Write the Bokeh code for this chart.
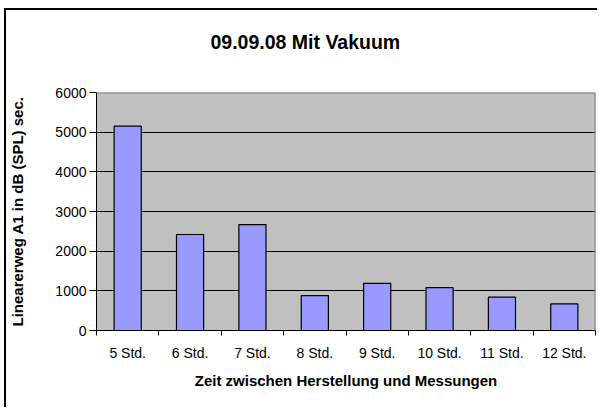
from bokeh.plotting import figure
from bokeh.models import FixedTicker, Range1d, ColumnDataSource, Span, Title
from bokeh.embed import file_html
from bokeh.resources import INLINE

categories = ["5 Std.", "6 Std.", "7 Std.", "8 Std.", "9 Std.", "10 Std.", "11 Std.", "12 Std."]
values = [5150, 2420, 2670, 880, 1190, 1080, 840, 670]
y_ticks = [0, 1000, 2000, 3000, 4000, 5000, 6000]

title = "09.09.08 Mit Vakuum"
x_title = "Zeit zwischen Herstellung und Messungen"
y_title = "Linearerweg A1 in dB (SPL) sec."

FONT = "Liberation Sans"
n = len(categories)
xs = [i + 0.5 for i in range(n)]
src = ColumnDataSource(dict(x=xs, top=values))

p = figure(width=593, height=399, output_backend="svg", toolbar_location=None,
           x_range=Range1d(0, n), y_range=Range1d(0, y_ticks[-1]),
           min_border_left=90, min_border_right=4, min_border_top=82, min_border_bottom=79,
           title=title)
p.styles = {"margin-left": "4px", "margin-top": "8px",
            "border-left": "2px solid black", "border-top": "2px solid black"}

p.title.align = "left"
p.title.offset = 114
p.title.standoff = 0
p.title.text_font = FONT
p.title.text_font_size = "19.5px"
p.title.text_font_style = "bold"
p.title.text_color = "black"

# empty spacer between title and plot area
p.add_layout(Title(text=" ", text_font=FONT, text_font_size="20px", standoff=16), "above")

p.background_fill_color = "#C0C0C0"
p.border_fill_color = "white"
p.outline_line_color = None

p.vbar(x="x", top="top", width=0.435, bottom=0, source=src,
       fill_color="#9999FF", line_color="black", line_width=1.2)

p.xgrid.visible = False
p.ygrid.ticker = FixedTicker(ticks=y_ticks)
p.ygrid.grid_line_color = "black"
p.ygrid.grid_line_width = 1

p.add_layout(Span(location=y_ticks[-1], dimension="width", line_color="#808080", line_width=2))
p.add_layout(Span(location=n, dimension="height", line_color="#808080", line_width=2))

ya = p.yaxis[0]
ya.ticker = FixedTicker(ticks=y_ticks)
ya.axis_line_color = "black"
ya.major_tick_line_color = "black"
ya.major_tick_out = 7
ya.major_tick_in = 0
ya.minor_tick_line_color = None
ya.major_label_standoff = 3
ya.major_label_text_font = FONT
ya.major_label_text_font_size = "14px"
ya.major_label_text_color = "black"
ya.axis_label = y_title
ya.axis_label_text_font = FONT
ya.axis_label_text_font_size = "15px"
ya.axis_label_text_font_style = "bold"
ya.axis_label_text_color = "black"
ya.axis_label_standoff = 26

xa = p.xaxis[0]
xa.ticker = FixedTicker(ticks=xs, minor_ticks=list(range(n + 1)))
xa.major_label_overrides = {x: c for x, c in zip(xs, categories)}
xa.axis_line_color = "black"
xa.major_tick_line_color = None
xa.major_tick_out = 0
xa.major_tick_in = 0
xa.minor_tick_line_color = "black"
xa.minor_tick_out = 5
xa.minor_tick_in = 0
xa.major_label_standoff = 9
xa.major_label_text_font = FONT
xa.major_label_text_font_size = "14px"
xa.major_label_text_color = "black"
xa.axis_label = x_title
xa.axis_label_text_font = FONT
xa.axis_label_text_font_size = "15px"
xa.axis_label_text_font_style = "bold"
xa.axis_label_text_color = "black"
xa.axis_label_standoff = 8

open("out.html", "w").write(file_html(p, INLINE))
